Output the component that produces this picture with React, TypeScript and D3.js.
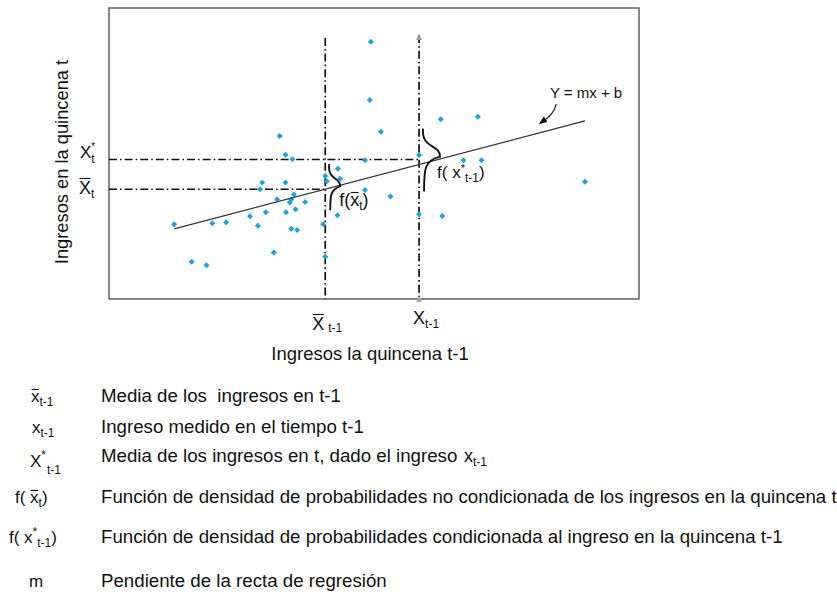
import React from 'react';
import * as d3 from 'd3';

// Ingresos en la quincena t-1 (eje x) y en la quincena t (eje y), unidades relativas
const ingresoAnterior = [
  49.4, 49.2, 32.2, 33.3, 34.6, 48.3, 43.2, 40.8, 41.1, 43.6, 28.9, 33.3, 28.5, 48.3, 31.7,
  34.9, 34.4, 34.1, 37.0, 29.6, 33.4, 35.2, 26.6, 43.1, 12.3, 19.5, 22.1, 28.1, 40.4, 34.4,
  35.5, 31.1, 15.6, 18.4, 40.8, 62.6, 69.6, 51.3, 58.5, 66.9, 70.3, 89.8, 53.1, 58.5, 62.9
];
const ingresoActual = [
  88.4, 68.4, 56.0, 49.6, 48.0, 47.7, 44.8, 42.3, 40.5, 41.3, 40.0, 40.0, 37.7, 37.5, 34.3,
  35.9, 34.2, 33.2, 33.3, 29.8, 29.8, 30.8, 28.4, 28.8, 25.7, 26.0, 26.4, 25.2, 25.7, 24.1,
  23.7, 16.0, 12.8, 11.6, 14.5, 61.8, 62.6, 57.5, 49.5, 47.7, 47.7, 40.3, 35.2, 29.1, 28.5
];

const mediaAnterior = 40.8;     // x̄ t-1
const ingresoMedido = 58.5;     // x t-1
const mediaActual = 37.7;       // x̄ t
const mediaCondicional = 47.9;  // x* t
const pendiente = 0.479;
const intercepto = 18.2;
const rectaDominio = [12.3, 89.8];
const topeMedia = 89.7;
const topeMedido = 90.7;

const leyendaTextos = [
  'Media de los  ingresos en t-1',
  'Ingreso medido en el tiempo t-1',
  'Media de los ingresos en t, dado el ingreso',
  'Función de densidad de probabilidades no condicionada de los ingresos en la quincena t',
  'Función de densidad de probabilidades condicionada al ingreso en la quincena t-1',
  'Pendiente de la recta de regresión'
];
const leyendaBase = [401.5, 432.5, 461.5, 503, 543, 586.5];

const W = 837;
const H = 594;
const margin = { top: 8, right: 198, bottom: 295, left: 109 };
const FONT = '"Liberation Sans", Arial, Helvetica, sans-serif';
const INK = '#111';

const x = d3.scaleLinear().domain([0, 100]).range([margin.left, W - margin.right]);
const y = d3.scaleLinear().domain([0, 100]).range([H - margin.bottom, margin.top]);
const recta = (v: number) => intercepto + pendiente * v;

const rombo = d3.symbol(d3.symbolSquare, 18)();
const dashDot = '8,3,1.6,3';

const brace = (cx: number, cy: number, top: number, bottom: number, reach: number) => {
  const p = d3.path();
  p.moveTo(cx + 4, cy - top);
  p.bezierCurveTo(cx + 2, cy - top * 0.35, cx + reach, cy - top * 0.5, cx + reach, cy - 3);
  p.bezierCurveTo(cx + 5, cy + 1, cx + 5, cy + bottom * 0.3, cx + 5, cy + bottom);
  return p.toString();
};

// barra de media sobre una letra (x0 = inicio del glifo, w = ancho)
const Barra = ({ x0, w, yb }: { x0: number; w: number; yb: number }) => (
  <line x1={x0 + 0.5} x2={x0 + w - 0.5} y1={yb} y2={yb} stroke={INK} strokeWidth={1.1} />
);

const LegendSymbol = ({ i, base }: { i: number; base: number }) => {
  const fs = 17;
  if (i === 0)
    return (
      <g>
        <text x={31} y={base} fontFamily={FONT} fontSize={fs} fill={INK}>
          x<tspan fontSize={12} dy={4}>t-1</tspan>
        </text>
        <Barra x0={31} w={fs * 0.5} yb={base - 12} />
      </g>
    );
  if (i === 1)
    return (
      <text x={32} y={base} fontFamily={FONT} fontSize={fs} fill={INK}>
        x<tspan fontSize={12} dy={4}>t-1</tspan>
      </text>
    );
  if (i === 2)
    return (
      <text x={30} y={base + 5} fontFamily={FONT} fontSize={fs} fill={INK}>
        X<tspan fontSize={12} dy={-8}>*</tspan>
        <tspan fontSize={12} dy={15} dx={1}>t-1</tspan>
      </text>
    );
  if (i === 3)
    return (
      <g>
        <text x={15} y={base} fontFamily={FONT} fontSize={fs} fill={INK}>
          f( x<tspan fontSize={12} dy={4}>t</tspan>
          <tspan dy={-4}>)</tspan>
        </text>
        <Barra x0={15 + fs * 0.889} w={fs * 0.5} yb={base - 12.5} />
      </g>
    );
  if (i === 4)
    return (
      <text x={9} y={base} fontFamily={FONT} fontSize={fs} fill={INK}>
        f( x<tspan fontSize={12} dy={-7}>*</tspan>
        <tspan fontSize={12} dy={11}>t-1</tspan>
        <tspan dy={-4}>)</tspan>
      </text>
    );
  return (
    <text x={29} y={base} fontFamily={FONT} fontSize={fs} fill={INK}>
      m
    </text>
  );
};

export default function App() {
  const xm = x(mediaAnterior);
  const xi = x(ingresoMedido);
  const ym = y(mediaActual);
  const yc = y(mediaCondicional);
  const tip = { x: x(81), y: y(recta(81)) - 8 };

  return (
    <svg width={W} height={H} style={{ position: 'absolute', left: 0, top: 0, background: '#fff' }}>
      <defs>
        <marker id="flecha" viewBox="0 0 10 10" refX={8} refY={5} markerWidth={7} markerHeight={7} orient="auto">
          <path d="M0,1 L10,5 L0,9 Z" fill={INK} />
        </marker>
      </defs>

      {/* marco del gráfico */}
      <rect
        x={margin.left}
        y={margin.top}
        width={W - margin.left - margin.right}
        height={H - margin.top - margin.bottom}
        fill="none"
        stroke="#555"
        strokeWidth={1.4}
      />

      {/* líneas de referencia */}
      <line x1={x(0)} x2={xm} y1={ym} y2={ym} stroke={INK} strokeWidth={1.5} strokeDasharray={dashDot} />
      <line x1={x(0)} x2={xi} y1={yc} y2={yc} stroke={INK} strokeWidth={1.5} strokeDasharray={dashDot} />
      <line x1={xm} x2={xm} y1={y(topeMedia)} y2={y(0)} stroke={INK} strokeWidth={1.7} strokeDasharray={dashDot} />
      <line x1={xi} x2={xi} y1={y(topeMedido)} y2={y(0)} stroke={INK} strokeWidth={1.7} strokeDasharray={dashDot} />
      <path d={`M${xi - 3},${y(topeMedido) + 5} L${xi},${y(topeMedido) - 1} L${xi + 3},${y(topeMedido) + 5} Z`} fill="#999" />
      <path d={`M${xi - 3},${y(0) + 3} L${xi},${y(0) - 3} L${xi + 3},${y(0) + 3} Z`} fill="#aaa" />

      {/* puntos */}
      {ingresoAnterior.map((v, i) => (
        <path
          key={i}
          d={rombo}
          transform={`translate(${x(v)},${y(ingresoActual[i])}) rotate(45)`}
          fill="#1ca3e0"
        />
      ))}

      {/* recta de regresión */}
      <line
        x1={x(rectaDominio[0])}
        y1={y(recta(rectaDominio[0]))}
        x2={x(rectaDominio[1])}
        y2={y(recta(rectaDominio[1]))}
        stroke="#333"
        strokeWidth={1.3}
      />

      {/* llaves de densidad */}
      <path d={brace(xm, y(recta(mediaAnterior)), 25, 21, 15)} fill="none" stroke={INK} strokeWidth={1.9} />
      <path d={brace(xi, yc, 31, 32, 21)} fill="none" stroke={INK} strokeWidth={1.9} />

      <text x={xm + 14} y={206} fontFamily={FONT} fontSize={18} fill={INK}>
        f(x<tspan fontSize={12} dy={4}>t</tspan>
        <tspan dy={-4}>)</tspan>
      </text>
      <Barra x0={xm + 14 + 18 * 0.611} w={9} yb={206 - 13.5} />
      <text x={xi + 18} y={178} fontFamily={FONT} fontSize={17} fill={INK}>
        f( x<tspan fontSize={11} dy={-6}>*</tspan>
        <tspan fontSize={12} dy={10}>t-1</tspan>
        <tspan dy={-4}>)</tspan>
      </text>

      <text x={x(83.2)} y={97.5} fontFamily={FONT} fontSize={15} fill={INK}>
        Y = mx + b
      </text>
      <path
        d={`M${tip.x + 18},${tip.y - 21} C${tip.x + 15},${tip.y - 10} ${tip.x + 9},${tip.y - 7} ${tip.x + 2},${tip.y - 2}`}
        fill="none"
        stroke={INK}
        strokeWidth={1.2}
        markerEnd="url(#flecha)"
      />

      {/* etiquetas eje y */}
      <text x={80} y={158} fontFamily={FONT} fontSize={17} fill={INK}>
        X<tspan fontSize={10} dy={-8}>*</tspan>
        <tspan fontSize={12} dy={13} dx={-4}>t</tspan>
      </text>
      <text x={79} y={194} fontFamily={FONT} fontSize={18} fill={INK}>
        X<tspan fontSize={12} dy={4}>t</tspan>
      </text>
      <Barra x0={79} w={12} yb={194 - 15.5} />

      {/* etiquetas eje x */}
      <text x={xm - 13} y={330} fontFamily={FONT} fontSize={18} fill={INK}>
        X<tspan fontSize={12} dx={4} dy={2}>t-1</tspan>
      </text>
      <Barra x0={xm - 13} w={12} yb={330 - 15.5} />
      <text x={xi - 6} y={324} fontFamily={FONT} fontSize={18} fill={INK}>
        X<tspan fontSize={12} dy={4}>t-1</tspan>
      </text>

      {/* títulos */}
      <text x={370} y={360} textAnchor="middle" fontFamily={FONT} fontSize={18.5} fill={INK}>
        Ingresos la quincena t-1
      </text>
      <text
        transform={`translate(68,${162}) rotate(-90)`}
        textAnchor="middle"
        fontFamily={FONT}
        fontSize={18.3}
        fill={INK}
      >
        Ingresos en la quincena t
      </text>

      {/* leyenda */}
      {leyendaTextos.map((t, i) => (
        <g key={i}>
          <LegendSymbol i={i} base={leyendaBase[i]} />
          <text
            x={101}
            y={leyendaBase[i]}
            xmlSpace="preserve"
            fontFamily={FONT}
            fontSize={18.7}
            fill={INK}
            style={{ whiteSpace: 'pre' }}
          >
            {t}
          </text>
        </g>
      ))}
      <text x={464} y={leyendaBase[2]} fontFamily={FONT} fontSize={18} fill={INK}>
        x<tspan fontSize={12} dy={4}>t-1</tspan>
      </text>
    </svg>
  );
}
